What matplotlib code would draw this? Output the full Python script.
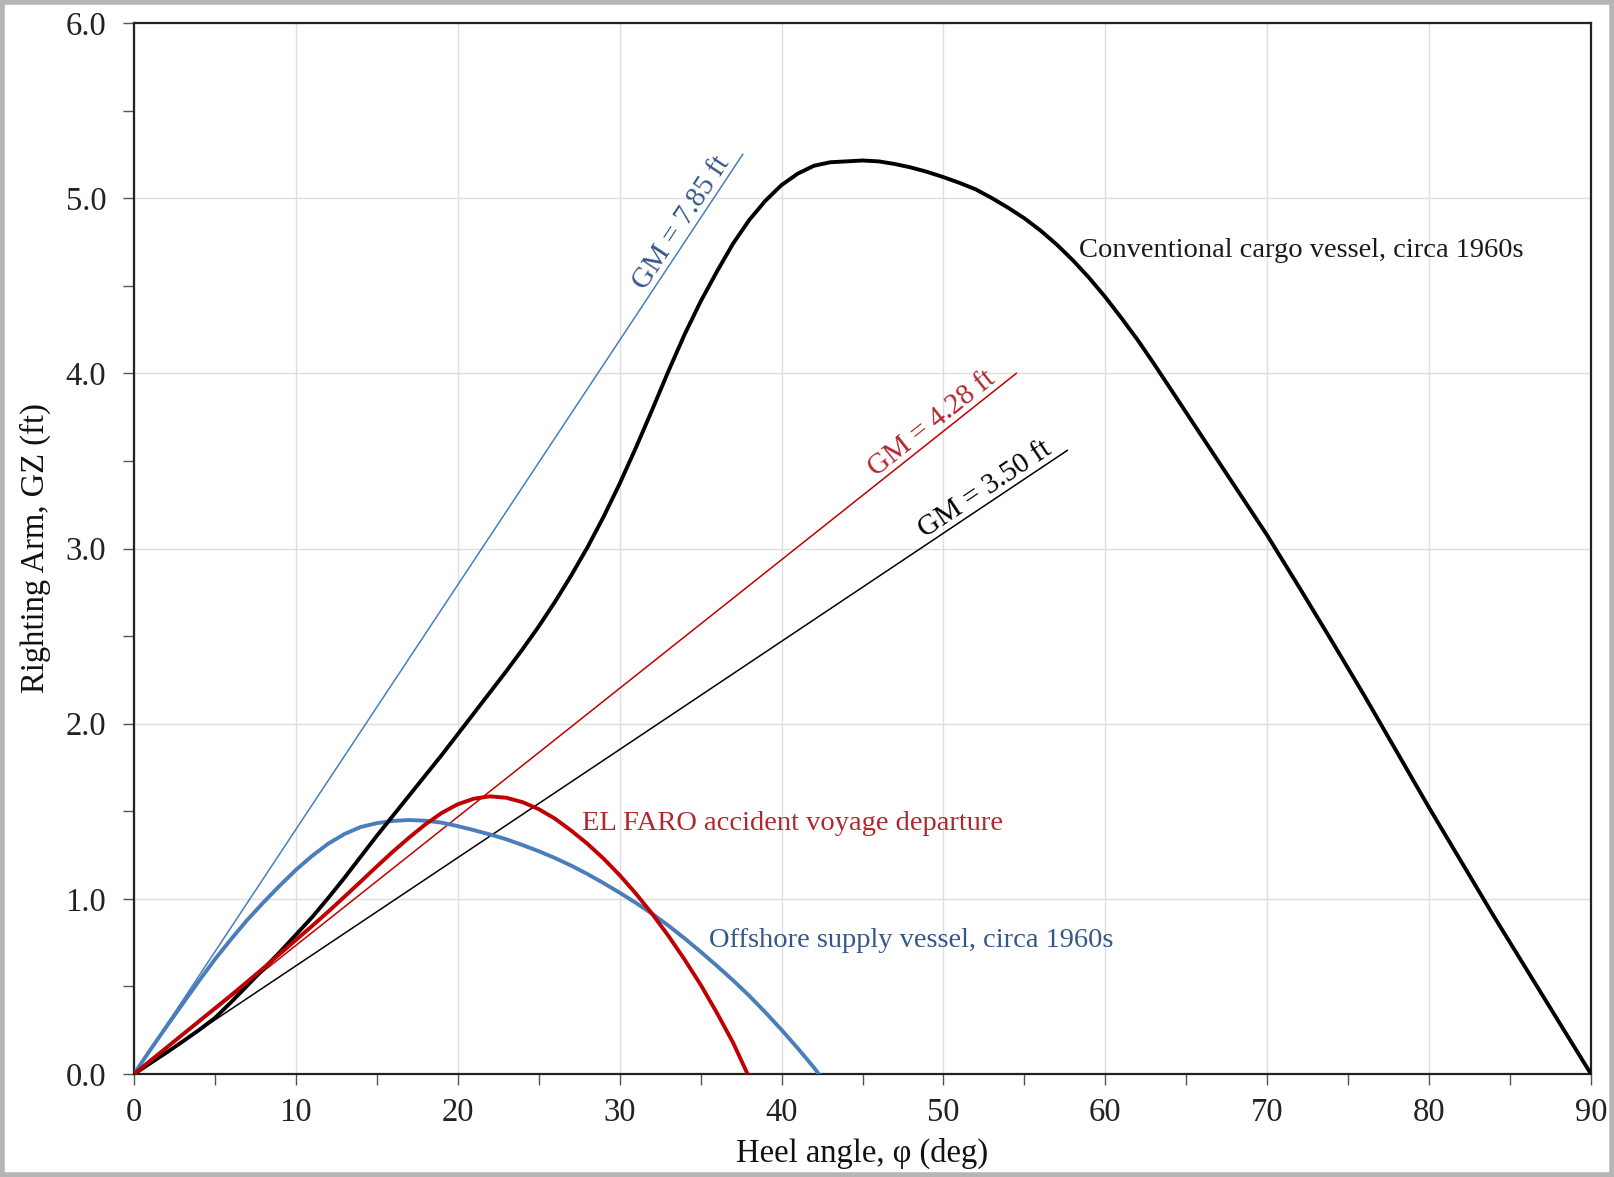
import numpy as np
import matplotlib
matplotlib.use('Agg')
import matplotlib.pyplot as plt
from matplotlib.ticker import MultipleLocator, FormatStrFormatter
from matplotlib.patches import Rectangle

plt.rcParams['font.family'] = ['Liberation Serif', 'DejaVu Serif']

# Conventional cargo vessel, circa 1960s (heel deg, GZ ft)
cargo_deg = [0, 1, 2, 3, 4, 5, 6, 7, 8, 9, 10, 11, 12, 13, 14, 15, 16, 17, 18,
             19, 20, 21, 22, 23, 24, 25, 26, 27, 28, 29, 30, 31, 32, 33, 34, 35,
             36, 37, 38, 39, 40, 41, 42, 43, 44, 45, 46, 47, 48, 49, 50, 51, 52,
             53, 54, 55, 56, 57, 58, 59, 60, 61, 62, 63, 64, 65, 66, 67, 68, 69,
             70, 72, 74, 76, 78, 80, 82, 84, 86, 88, 90]
cargo_gz = [0, 0.061, 0.122, 0.185, 0.25, 0.32, 0.41, 0.505, 0.60, 0.695, 0.795,
            0.895, 1.005, 1.12, 1.24, 1.36, 1.475, 1.59, 1.705, 1.82, 1.94, 2.06,
            2.18, 2.30, 2.425, 2.555, 2.695, 2.845, 3.005, 3.18, 3.37, 3.575,
            3.79, 4.01, 4.22, 4.41, 4.58, 4.74, 4.875, 4.985, 5.075, 5.14, 5.185,
            5.205, 5.21, 5.215, 5.21, 5.195, 5.175, 5.15, 5.12, 5.087, 5.05,
            5.00, 4.945, 4.885, 4.815, 4.735, 4.645, 4.545, 4.435, 4.315, 4.19,
            4.055, 3.915, 3.775, 3.635, 3.495, 3.355, 3.215, 3.075, 2.775, 2.47,
            2.16, 1.84, 1.52, 1.21, 0.90, 0.60, 0.30, 0]

# Offshore supply vessel, circa 1960s
supply_deg = [0, 1, 2, 3, 4, 5, 6, 7, 8, 9, 10, 11, 12, 13, 14, 15, 16, 17, 18,
              19, 20, 21, 22, 23, 24, 25, 26, 27, 28, 29, 30, 31, 32, 33, 34, 35,
              36, 37, 38, 39, 40, 41, 42, 42.3]
supply_gz = [0, 0.137, 0.27, 0.40, 0.53, 0.655, 0.77, 0.88, 0.98, 1.075, 1.165,
             1.245, 1.315, 1.37, 1.41, 1.432, 1.445, 1.45, 1.446, 1.435, 1.415,
             1.392, 1.367, 1.34, 1.307, 1.272, 1.233, 1.19, 1.142, 1.09, 1.035,
             0.977, 0.915, 0.848, 0.775, 0.698, 0.618, 0.535, 0.447, 0.352, 0.252,
             0.147, 0.037, 0]

# EL FARO accident voyage departure
elfaro_deg = [0, 1, 2, 3, 4, 5, 6, 7, 8, 9, 10, 11, 12, 13, 14, 15, 16, 17, 18,
              19, 20, 21, 22, 23, 24, 25, 26, 27, 28, 29, 30, 31, 32, 33, 34, 35,
              36, 37, 37.9]
elfaro_gz = [0, 0.075, 0.15, 0.225, 0.30, 0.375, 0.45, 0.527, 0.605, 0.685,
             0.765, 0.845, 0.927, 1.012, 1.098, 1.185, 1.27, 1.35, 1.425, 1.49,
             1.54, 1.572, 1.585, 1.577, 1.552, 1.512, 1.458, 1.39, 1.315, 1.23,
             1.135, 1.03, 0.915, 0.79, 0.655, 0.51, 0.35, 0.18, 0]

# initial GM tangent lines: end point of each line
gm_values = [7.85, 4.28, 3.50]
gm_end_deg = [37.6, 54.5, 57.65]
gm_end_gz = [5.25, 4.00, 3.56]

BLUE = '#4a7dbb'
RED = '#c00000'
BLUE_TXT = '#34578a'
RED_TXT = '#b3262c'

fig = plt.figure(figsize=(16.14, 11.77), dpi=100)
ax = fig.add_axes([134 / 1614, 1 - 1074 / 1177, 1457 / 1614, 1051 / 1177])

# thin GM lines
gm_colors = [BLUE, RED, 'black']
gm_txt_colors = [BLUE_TXT, RED_TXT, 'black']
gm_label_deg = [34.5, 49.8, 53.0]
for gm, xe, ye, c, tc, xl in zip(gm_values, gm_end_deg, gm_end_gz, gm_colors,
                                 gm_txt_colors, gm_label_deg):
    ax.plot([0, xe], [0, ye], color=c, lw=1.1, zorder=3)
    ang = np.degrees(np.arctan2(ye, xe))
    ax.text(xl, ye * xl / xe, f'GM = {gm:.2f} ft', color=tc, fontsize=21,
            rotation=ang, transform_rotates_text=True, rotation_mode='anchor',
            ha='center', va='bottom', zorder=5)

# GZ curves
ax.plot(supply_deg, supply_gz, color=BLUE, lw=2.8, zorder=4)
ax.plot(cargo_deg, cargo_gz, color='black', lw=2.8, zorder=4)
ax.plot(elfaro_deg, elfaro_gz, color=RED, lw=2.8, zorder=4)

ax.text(58.4, 4.70, 'Conventional cargo vessel, circa 1960s', color='#1a1a1a',
        fontsize=20.5, ha='left', va='center')
ax.text(27.7, 1.43, 'EL FARO accident voyage departure', color=RED_TXT,
        fontsize=20.5, ha='left', va='center')
ax.text(35.5, 0.76, 'Offshore supply vessel, circa 1960s', color=BLUE_TXT,
        fontsize=20.5, ha='left', va='center')

ax.set_xlim(0, 90)
ax.set_ylim(0, 6)
ax.xaxis.set_major_locator(MultipleLocator(10))
ax.xaxis.set_minor_locator(MultipleLocator(5))
ax.yaxis.set_major_locator(MultipleLocator(1))
ax.yaxis.set_minor_locator(MultipleLocator(0.5))
ax.yaxis.set_major_formatter(FormatStrFormatter('%.1f'))
ax.grid(which='major', color='#dedede', lw=1.0, zorder=0)
ax.set_axisbelow(True)

ax.tick_params(which='both', direction='out', length=8, width=1.0,
               color='#555555', labelsize=23.5, labelcolor='#222222')
ax.tick_params(axis='x', pad=9)
ax.tick_params(axis='y', pad=12)
for sp in ax.spines.values():
    sp.set_linewidth(1.6)
    sp.set_color('#222222')

ax.set_xlabel('Heel angle, φ (deg)', fontsize=23.5, color='#111111')
ax.set_ylabel('Righting Arm, GZ (ft)', fontsize=23.5, color='#111111')
ax.xaxis.set_label_coords(0.5, -0.061)
ax.yaxis.set_label_coords(-0.057, 0.5)

# screenshot-style grey frame
fig.patches.append(Rectangle((0.0015, 0.002), 0.997, 0.996, transform=fig.transFigure,
                             fill=False, edgecolor='#b5b5b5', lw=4))

fig.savefig('out.png', dpi=100)
